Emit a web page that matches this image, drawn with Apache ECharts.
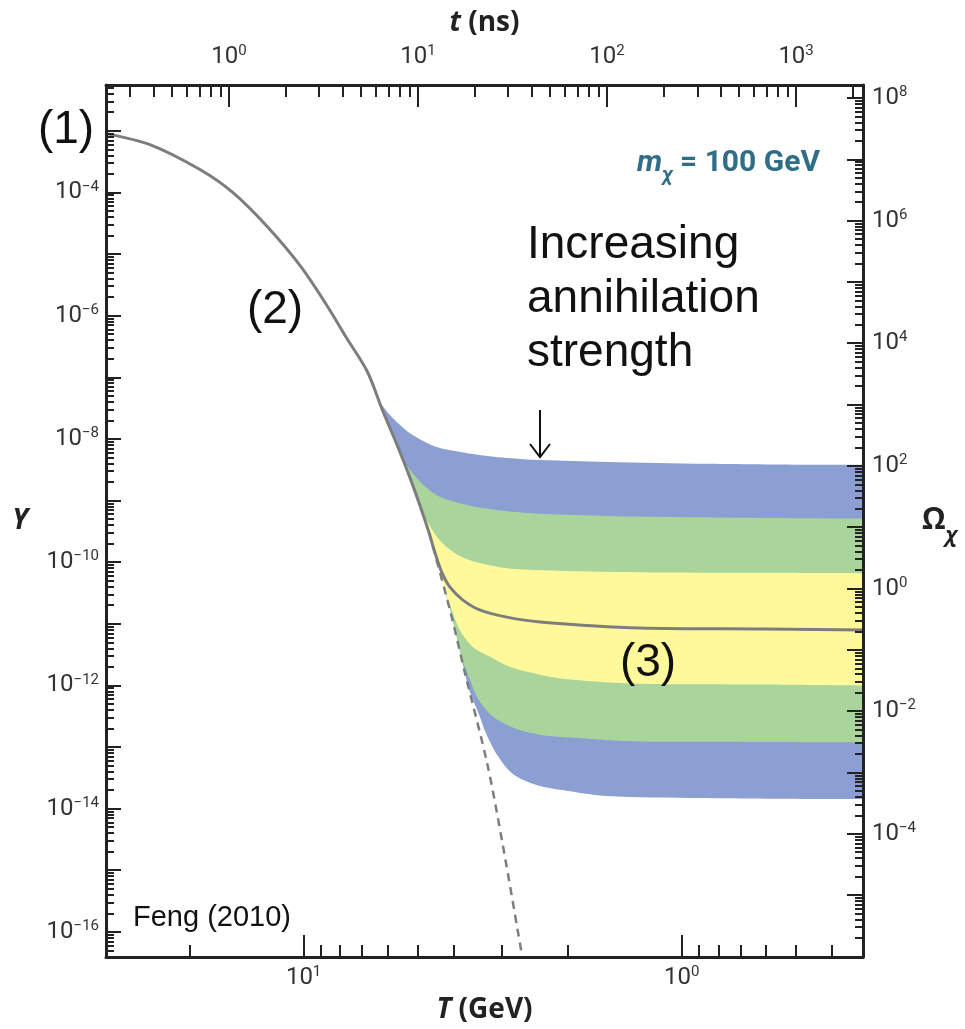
<!DOCTYPE html>
<html>
<head>
<meta charset="utf-8">
<script src="https://cdn.jsdelivr.net/npm/echarts@6/dist/echarts.min.js"></script>
<style>
  html, body { margin: 0; padding: 0; background: #ffffff; }
  #chart { width: 965px; height: 1029px; }
</style>
</head>
<body>
<div id="chart"></div>
<script>
// ---- Data: temperature T (GeV) and comoving abundance Y ----

// Solid curve: equilibrium (1)-(2), then freeze-out to the relic value (3)
const freezeOutCurve = [
  [33.3, 9.0e-4], [25.5, 5.96e-4], [18.8, 2.35e-4], [15.4, 1.0e-4],
  [12.5, 2.82e-5], [10.2, 6.4e-6], [8.67, 1.45e-6], [7.68, 4.25e-7],
  [6.79, 1.25e-7], [6.17, 2.81e-8], [5.66, 7.96e-9], [5.23, 2.33e-9],
  [4.87, 6.84e-10], [4.66, 3.02e-10], [4.47, 1.29e-10], [4.31, 6.84e-11],
  [4.10, 3.92e-11], [3.79, 2.42e-11], [3.41, 1.66e-11], [2.90, 1.28e-11],
  [2.37, 1.07e-11], [1.29, 8.53e-12], [0.60, 8.2e-12], [0.30, 7.9e-12]
];

// Dashed curve: equilibrium abundance continuing after freeze-out
const equilibriumTail = [
  [4.66, 3.02e-10], [4.10, 1.66e-11], [3.74, 1.55e-12],
  [3.27, 5.45e-14], [2.97, 2.49e-15], [2.64, 3.88e-17]
];

// Edges of the coloured bands (weaker annihilation on top)
const edgeBlueTop = [
  [6.56, 5.7e-8], [5.91, 2.43e-8], [5.33, 1.34e-8], [4.83, 9.23e-9], [4.36, 7.11e-9],
  [3.57, 5.69e-9], [2.90, 4.91e-9], [2.37, 4.56e-9], [1.58, 4.23e-9], [0.857, 3.93e-9],
  [0.60, 3.85e-9], [0.30, 3.78e-9]
];
const edgeBlueGreen = [
  [5.87, 1.03e-8], [5.33, 3.65e-9], [4.83, 1.80e-9], [4.36, 1.15e-9], [3.63, 8.24e-10],
  [2.97, 6.84e-10], [2.37, 6.12e-10], [1.29, 5.48e-10], [0.60, 5.2e-10], [0.30, 5.08e-10]
];
const edgeGreenYellow = [
  [5.14, 1.39e-9], [4.72, 4.72e-10], [4.36, 2.24e-10], [3.93, 1.33e-10], [3.48, 9.91e-11],
  [2.90, 7.93e-11], [2.37, 7.36e-11], [1.29, 6.84e-11], [0.60, 6.7e-11], [0.30, 6.59e-11]
];
const edgeYellowGreen = [
  [4.33, 5.27e-11], [4.10, 2.00e-11], [3.86, 7.92e-12], [3.57, 4.21e-12], [3.25, 3.01e-12],
  [2.85, 2.00e-12], [2.37, 1.49e-12], [1.97, 1.24e-12], [1.29, 1.06e-12], [0.60, 1.03e-12],
  [0.30, 9.88e-13]
];
const edgeGreenBlue = [
  [3.79, 2.41e-12], [3.63, 1.24e-12], [3.48, 6.56e-13], [3.18, 3.24e-13], [2.76, 2.00e-13],
  [2.30, 1.54e-13], [1.97, 1.43e-13], [1.29, 1.23e-13], [0.60, 1.21e-13], [0.30, 1.19e-13]
];
const edgeBlueBottom = [
  [3.65, 8.51e-13], [3.42, 3.13e-13], [3.31, 1.79e-13], [3.06, 7.06e-14], [2.79, 3.61e-14],
  [2.41, 2.40e-14], [1.97, 1.92e-14], [1.58, 1.60e-14], [0.895, 1.48e-14], [0.60, 1.45e-14],
  [0.30, 1.43e-14]
];

// ---- Axis ranges (as powers of ten) and tick values ----
const T_EXP = [-0.4795, 1.5226];     // bottom axis, T in GeV (decreasing to the right)
const t_EXP = [-0.651, 3.354];       // top axis, t in ns
const Y_EXP = [-16.41, -2.257];      // left axis, Y
const OMEGA_EXP = [-6.011, 8.211];   // right axis, Omega

const T_MAJOR = [10, 1];
const T_MINOR = [20, 9, 8, 7, 6, 5, 4, 3, 2, 0.9, 0.8, 0.7, 0.6, 0.5, 0.4];
const t_MAJOR = [1, 10, 100, 1000];
const Y_LABELS = [1e-4, 1e-6, 1e-8, 1e-10, 1e-12, 1e-14, 1e-16];
const OMEGA_LABELS = [1e8, 1e6, 1e4, 1e2, 1, 1e-2, 1e-4];

const L = Math.log10;
const toLog = pts => pts.map(p => [L(p[0]), L(p[1])]);

// decade and 2..9 sub-decade tick positions inside an exponent range
function decades(range) {
  const out = [];
  for (let e = Math.ceil(range[0]); e <= Math.floor(range[1]); e++) out.push(e);
  return out;
}
function subDecades(range) {
  const out = [];
  for (let e = Math.floor(range[0]); e <= Math.ceil(range[1]); e++) {
    for (let k = 2; k <= 9; k++) {
      const v = e + L(k);
      if (v > range[0] && v < range[1]) out.push(v);
    }
  }
  return out;
}

const INK = '#222222';
const LABEL_COLOR = '#333333';
const BLUE = '#8b9fd3';
const GREEN = '#a9d49c';
const YELLOW = '#fff99c';
const CURVE = '#7d7d7d';

function decadeLabel(v) {
  const e = Math.round(v);
  return '10{s|' + (e < 0 ? '\u2212' + (-e) : String(e)) + '}';
}
const tickLabel = {
  show: true,
  color: LABEL_COLOR,
  fontFamily: 'Roboto',
  fontSize: 24,
  lineHeight: 26,
  formatter: decadeLabel,
  rich: {
    s: { fontFamily: 'Roboto', fontSize: 15, lineHeight: 15, verticalAlign: 'top', color: LABEL_COLOR }
  }
};
const titleStyle = {
  color: INK,
  fontFamily: 'Open Sans',
  fontWeight: 'bold',
  fontSize: 28,
  rich: {
    i: { fontFamily: 'Open Sans', fontWeight: 'bold', fontStyle: 'italic', fontSize: 28, color: INK },
    o: { fontFamily: 'Open Sans', fontSize: 30, color: INK, lineHeight: 32, verticalAlign: 'top' },
    c: { fontFamily: 'Open Sans', fontStyle: 'italic', fontWeight: 'bold', fontSize: 21, color: INK,
         lineHeight: 20, padding: [20, 0, 0, 0], verticalAlign: 'top' }
  }
};

function axis(extra) {
  return Object.assign({
    type: 'value',
    splitLine: { show: false },
    axisLine: { show: false, onZero: false },
    axisTick: { show: false },
    axisLabel: { show: false },
    z: 10
  }, extra);
}
const frameLine = { show: true, onZero: false, lineStyle: { color: INK, width: 3 } };
function ticks(values, length, width) {
  return { show: true, inside: true, length: length, customValues: values,
           lineStyle: { color: INK, width: width } };
}

// Each band edge is filled downward in order, top band first; the last
// fill is white and follows the equilibrium line, then the lowest edge.
function fillSeries(name, edge, color, z) {
  return {
    name: name, type: 'line', xAxisIndex: 0, yAxisIndex: 0,
    data: toLog(edge), smooth: 0.3, showSymbol: false, silent: true, z: z,
    lineStyle: { width: 0, color: color },
    areaStyle: { color: color, opacity: 1, origin: 'start' }
  };
}

// lower boundary of all bands: equilibrium line down to where the lowest edge leaves it
const lowerEnvelope = freezeOutCurve.filter(p => p[0] <= 6.79 && p[0] >= 4.66)
  .concat(equilibriumTail.filter(p => p[0] < 4.66 && p[0] >= 3.74))
  .concat(edgeBlueBottom);

const chart = echarts.init(document.getElementById('chart'));

chart.setOption({
  backgroundColor: '#ffffff',
  animation: false,
  grid: { left: 106, right: 102, top: 85, bottom: 67, show: false },
  xAxis: [
    axis({
      position: 'bottom', min: T_EXP[0], max: T_EXP[1], inverse: true,
      axisLine: frameLine,
      axisTick: ticks(T_MAJOR.map(L), 22, 2),
      axisLabel: Object.assign({}, tickLabel, { customValues: T_MAJOR.map(L), margin: 8 }),
      name: '{i|T} (GeV)', nameLocation: 'middle', nameGap: 24, nameTextStyle: titleStyle
    }),
    axis({
      position: 'bottom', min: T_EXP[0], max: T_EXP[1], inverse: true,
      axisTick: ticks(T_MINOR.map(L), 12, 2)
    }),
    axis({
      position: 'top', min: t_EXP[0], max: t_EXP[1],
      axisLine: frameLine,
      axisTick: ticks(t_MAJOR.map(L), 22, 2),
      axisLabel: Object.assign({}, tickLabel, { customValues: t_MAJOR.map(L), margin: 15 }),
      name: '{i|t} (ns)', nameLocation: 'middle', nameGap: 48, nameTextStyle: titleStyle
    }),
    axis({
      position: 'top', min: t_EXP[0], max: t_EXP[1],
      axisTick: ticks(subDecades(t_EXP), 12, 2)
    })
  ],
  yAxis: [
    axis({
      position: 'left', min: Y_EXP[0], max: Y_EXP[1],
      axisLine: frameLine,
      axisTick: ticks(decades(Y_EXP), 15, 2),
      axisLabel: Object.assign({}, tickLabel, { customValues: Y_LABELS.map(L), margin: 7 }),
      name: '{i|Y}', nameLocation: 'middle', nameRotate: 0, nameGap: 78, nameTextStyle: titleStyle
    }),
    axis({
      position: 'left', min: Y_EXP[0], max: Y_EXP[1],
      axisTick: ticks(subDecades(Y_EXP), 8, 2)
    }),
    axis({
      position: 'right', min: OMEGA_EXP[0], max: OMEGA_EXP[1],
      axisLine: frameLine,
      axisTick: ticks(decades(OMEGA_EXP), 16, 2),
      axisLabel: Object.assign({}, tickLabel, { customValues: OMEGA_LABELS.map(L), margin: 9 }),
      name: '{o|\u03A9}{c|\u03C7}', nameLocation: 'middle', nameRotate: 0, nameGap: 55, nameTextStyle: titleStyle
    }),
    axis({
      position: 'right', min: OMEGA_EXP[0], max: OMEGA_EXP[1],
      axisTick: ticks(subDecades(OMEGA_EXP), 8, 2)
    })
  ],
  series: [
    fillSeries('blue upper', edgeBlueTop, BLUE, 1),
    fillSeries('green upper', edgeBlueGreen, GREEN, 2),
    fillSeries('yellow', edgeGreenYellow, YELLOW, 3),
    fillSeries('green lower', edgeYellowGreen, GREEN, 4),
    fillSeries('blue lower', edgeGreenBlue, BLUE, 5),
    fillSeries('below bands', lowerEnvelope, '#ffffff', 6),
    {
      name: 'equilibrium', type: 'line', xAxisIndex: 0, yAxisIndex: 0,
      data: toLog(equilibriumTail), smooth: 0.3, showSymbol: false, z: 7, silent: true,
      lineStyle: { color: CURVE, width: 2.5, type: [8, 6] }
    },
    {
      name: 'abundance', type: 'line', xAxisIndex: 0, yAxisIndex: 0,
      data: toLog(freezeOutCurve), smooth: 0.3, showSymbol: false, z: 8, silent: true,
      lineStyle: { color: CURVE, width: 3 }
    }
  ],
  graphic: [
    { type: 'text', x: 66, y: 130, z: 20,
      style: { text: '(1)', font: '46px "Liberation Sans"', fill: '#111', align: 'center', verticalAlign: 'middle' } },
    { type: 'text', x: 275, y: 310, z: 20,
      style: { text: '(2)', font: '46px "Liberation Sans"', fill: '#111', align: 'center', verticalAlign: 'middle' } },
    { type: 'text', x: 648, y: 663, z: 20,
      style: { text: '(3)', font: '46px "Liberation Sans"', fill: '#111', align: 'center', verticalAlign: 'middle' } },
    { type: 'text', x: 527, y: 245, z: 20,
      style: { text: 'Increasing', font: '46px "Liberation Sans"', fill: '#111', align: 'left', verticalAlign: 'middle' } },
    { type: 'text', x: 527, y: 299, z: 20,
      style: { text: 'annihilation', font: '46px "Liberation Sans"', fill: '#111', align: 'left', verticalAlign: 'middle' } },
    { type: 'text', x: 527, y: 353, z: 20,
      style: { text: 'strength', font: '46px "Liberation Sans"', fill: '#111', align: 'left', verticalAlign: 'middle' } },
    { type: 'line', z: 20, shape: { x1: 540, y1: 410, x2: 540, y2: 456 },
      style: { stroke: '#111', lineWidth: 2 } },
    { type: 'polyline', z: 20, shape: { points: [[530, 444], [540, 457], [550, 444]] },
      style: { stroke: '#111', lineWidth: 2, fill: null } },
    { type: 'text', x: 133, y: 918, z: 20,
      style: { text: 'Feng (2010)', font: '29px "Liberation Sans"', fill: '#111', align: 'left', verticalAlign: 'middle' } },
    { type: 'text', x: 820, y: 148, z: 20,
      style: {
        text: '{m|m}{c|\u03C7}{e| = 100 GeV}', align: 'right', verticalAlign: 'top',
        rich: {
          m: { fontFamily: 'Roboto', fontWeight: 'bold', fontStyle: 'italic', fontSize: 30, lineHeight: 30, verticalAlign: 'top', fill: '#2f6e86' },
          c: { fontFamily: 'Roboto', fontWeight: 'bold', fontStyle: 'italic', fontSize: 20, lineHeight: 20, padding: [18, 0, 0, 0], verticalAlign: 'top', fill: '#2f6e86' },
          e: { fontFamily: 'Roboto', fontWeight: 'bold', fontSize: 30, lineHeight: 30, verticalAlign: 'top', fill: '#2f6e86' }
        }
      } }
  ]
});
</script>
</body>
</html>
